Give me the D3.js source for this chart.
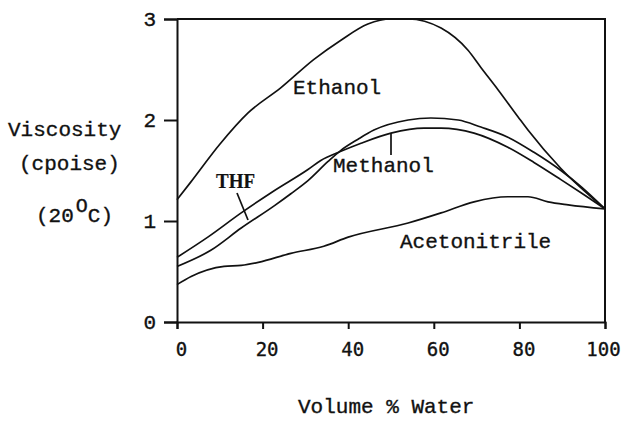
<!DOCTYPE html>
<html>
<head>
<meta charset="utf-8">
<script src="https://cdn.jsdelivr.net/npm/d3@7"></script>
<style>
  html, body { margin: 0; padding: 0; background: #fff; }
  svg { display: block; }
  text { font-family: "Liberation Mono", "Courier New", monospace; fill: #111; stroke: #111; stroke-width: 0.35px; }
</style>
</head>
<body>
<svg id="chart" width="624" height="422"></svg>
<script>
// Viscosity (cP, 20 °C) of aqueous organic mixtures versus volume % water
const xTicks = [0, 20, 40, 60, 80, 100];
const yTicks = [0, 1, 2, 3];

const ethanolX = [0, 3.3, 10, 16.6, 24.3, 32, 38.3, 44.6, 50, 54, 61.7, 68, 71, 75, 79.7, 82, 89.7, 100];
const ethanolY = [1.21, 1.39, 1.76, 2.07, 2.32, 2.60, 2.79, 2.95, 3.0, 3.0, 2.91, 2.69, 2.52, 2.30, 2.03, 1.90, 1.52, 1.12];

const methanolX = [0, 7.2, 15, 22.7, 30.6, 33.6, 38.3, 43, 50, 57.7, 61.7, 69.4, 77.3, 83.4, 89.7, 94.4, 100];
const methanolY = [0.64, 0.84, 1.08, 1.30, 1.51, 1.60, 1.69, 1.77, 1.87, 1.92, 1.92, 1.87, 1.73, 1.58, 1.41, 1.28, 1.12];

const thfX = [0, 7.9, 15, 22.7, 26.6, 30.6, 35.3, 38.3, 42.3, 46, 54, 59.3, 65.7, 71, 77.3, 83.4, 89.7, 94.4, 100];
const thfY = [0.55, 0.71, 0.93, 1.15, 1.27, 1.40, 1.59, 1.70, 1.81, 1.90, 2.00, 2.02, 2.00, 1.93, 1.83, 1.68, 1.50, 1.34, 1.12];

const acnX = [0, 3.3, 11, 15, 19, 26.6, 34.3, 40, 54, 61.7, 69.4, 77.3, 82, 86.7, 91.4, 100];
const acnY = [0.37, 0.45, 0.55, 0.56, 0.59, 0.68, 0.75, 0.84, 0.98, 1.08, 1.19, 1.24, 1.24, 1.19, 1.16, 1.12];

const seriesNames = ["Ethanol", "Methanol", "THF", "Acetonitrile"];

const svg = d3.select("#chart");
const x = d3.scaleLinear().domain([0, 100]).range([177, 605]);
const y = d3.scaleLinear().domain([0, 3]).range([322, 19]);

const ink = "#111";

// Frame: top and right borders
svg.append("path")
  .attr("d", `M${x(0)},${y(3)}H${x(100)}V${y(0)}`)
  .attr("fill", "none").attr("stroke", ink).attr("stroke-width", 2);

// Left axis with outward ticks
const yAxis = d3.axisLeft(y).tickValues(yTicks).tickSize(13).tickPadding(8).tickFormat(d3.format("d"));
const gy = svg.append("g").attr("transform", `translate(${x(0)},0)`).call(yAxis);
gy.select(".domain").attr("stroke", ink).attr("stroke-width", 2);
gy.selectAll(".tick line").attr("stroke", ink).attr("stroke-width", 2);
gy.selectAll(".tick text")
  .style("font-family", "'Liberation Mono', monospace")
  .style("font-size", "21px").attr("fill", ink);

// Bottom axis with ticks below; the last label is kept inside the page edge
const xAxis = d3.axisBottom(x).tickValues(xTicks).tickSize(7).tickPadding(14).tickFormat(d3.format("d"));
const gx = svg.append("g").attr("transform", `translate(0,${y(0)})`).call(xAxis);
gx.select(".domain").attr("stroke", ink).attr("stroke-width", 2);
gx.selectAll(".tick line").attr("stroke", ink).attr("stroke-width", 2);
gx.selectAll(".tick text")
  .attr("dx", d => d === 100 ? -2 : 4)
  .style("font-family", "'DejaVu Sans Mono', monospace")
  .style("font-size", "19px").attr("fill", ink);

// Curves
const line = d3.line().x(d => x(d[0])).y(d => y(d[1])).curve(d3.curveMonotoneX);
const series = [
  d3.zip(ethanolX, ethanolY),
  d3.zip(methanolX, methanolY),
  d3.zip(thfX, thfY),
  d3.zip(acnX, acnY)
];
svg.append("g").selectAll("path").data(series).join("path")
  .attr("d", line)
  .attr("fill", "none").attr("stroke", ink).attr("stroke-width", 1.7)
  .attr("stroke-linejoin", "round");

// Curve labels
const lbl = svg.append("g").style("font-size", "21px");
lbl.append("text").attr("x", 293).attr("y", 94).text(seriesNames[0]);
lbl.append("text").attr("x", 333).attr("y", 172).text(seriesNames[1]);
lbl.append("text").attr("x", 400).attr("y", 248).text(seriesNames[3]);
lbl.append("text").attr("x", 216).attr("y", 188)
  .attr("textLength", 39).attr("lengthAdjust", "spacingAndGlyphs")
  .style("font-family", "'Liberation Serif', serif").style("font-weight", "bold")
  .style("font-size", "21px").style("stroke-width", "0.2px").text(seriesNames[2]);

// Leader lines
svg.append("line").attr("x1", 391).attr("y1", 155).attr("x2", 391).attr("y2", y(1.87))
  .attr("stroke", ink).attr("stroke-width", 1.7);
svg.append("line").attr("x1", 237).attr("y1", 193).attr("x2", 248).attr("y2", 220)
  .attr("stroke", ink).attr("stroke-width", 1.7);

// Axis titles
const yt = svg.append("g").style("font-size", "21px");
yt.append("text").attr("x", 8).attr("y", 136).text("Viscosity");
yt.append("text").attr("x", 19).attr("y", 170).text("(cpoise)");
const t20 = yt.append("text").attr("x", 36).attr("y", 222);
t20.append("tspan").text("(20");
t20.append("tspan").attr("dy", -10).attr("dx", 2).style("font-size", "20px").text("O");
t20.append("tspan").attr("dy", 10).text("C)");

svg.append("text").attr("x", 298).attr("y", 413).style("font-size", "21px").text("Volume % Water");
</script>
</body>
</html>
